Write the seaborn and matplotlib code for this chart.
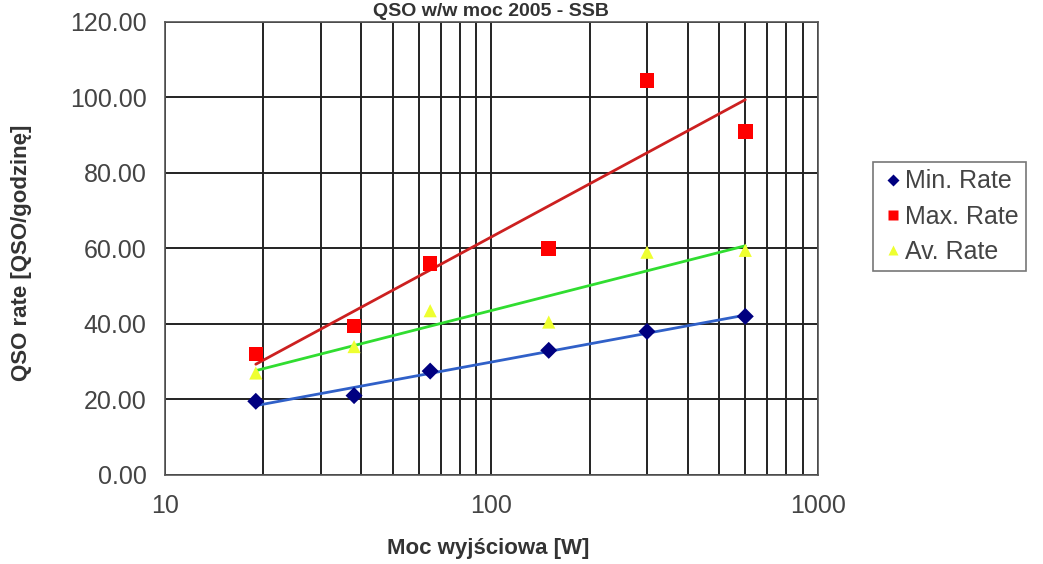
import numpy as np
import pandas as pd
import matplotlib
matplotlib.use('Agg')
import matplotlib.pyplot as plt
import matplotlib.ticker as mticker
import seaborn as sns

# Output power [W] for each measurement
power = [19, 38, 65, 150, 300, 600]

# QSO rates
min_rate = [19.5, 21.0, 27.5, 33.0, 38.0, 42.0]
max_rate = [32.0, 39.5, 56.0, 60.0, 104.5, 91.0]
av_rate = [27.0, 34.0, 43.5, 40.5, 59.0, 59.5]

series_names = ['Min. Rate', 'Max. Rate', 'Av. Rate']
y_ticks = [0, 20, 40, 60, 80, 100, 120]
x_ticks = [10, 100, 1000]


def build_frame():
    # long format table for seaborn
    df = pd.DataFrame({
        'Moc': power * 3,
        'Rate': min_rate + max_rate + av_rate,
        'Series': [s for s in series_names for _ in power],
    })
    return df


def log_trend(x, y):
    # Excel style logarithmic trendline
    coef = np.polyfit(np.log(x), y, 1)
    return np.polyval(coef, np.log(x))


def main():
    sns.set_style('white')
    plt.rcParams['font.family'] = ['Liberation Sans', 'DejaVu Sans']

    df = build_frame()

    fig = plt.figure(figsize=(10.43, 5.64), dpi=100)
    ax = fig.add_axes([0.158, 0.158, 0.626, 0.803])

    # trend lines first so markers sit on top
    trend_colors = {'Min. Rate': '#3060c8', 'Max. Rate': '#cc2020', 'Av. Rate': '#30dd30'}
    for name in series_names:
        sub = df[df['Series'] == name]
        sns.lineplot(x=sub['Moc'].values, y=log_trend(sub['Moc'].values, sub['Rate'].values),
                     color=trend_colors[name], linewidth=2, ax=ax, legend=False)

    sns.scatterplot(data=df, x='Moc', y='Rate', hue='Series', style='Series',
                    palette={'Min. Rate': '#000080', 'Max. Rate': '#ff0000', 'Av. Rate': '#eeff30'},
                    markers={'Min. Rate': 'D', 'Max. Rate': 's', 'Av. Rate': '^'},
                    size='Series', sizes={'Min. Rate': 75, 'Max. Rate': 110, 'Av. Rate': 90},
                    edgecolor='none', ax=ax, zorder=5)

    ax.set_xscale('log')
    ax.set_xlim(10, 1000)
    ax.set_ylim(0, 120)
    ax.set_yticks(y_ticks)
    ax.yaxis.set_major_formatter(mticker.FormatStrFormatter('%.2f'))
    ax.set_xticks(x_ticks)
    ax.xaxis.set_major_formatter(mticker.FormatStrFormatter('%d'))
    ax.xaxis.set_minor_locator(mticker.LogLocator(base=10, subs=np.arange(2, 10)))
    ax.xaxis.set_minor_formatter(mticker.NullFormatter())

    ax.grid(True, which='major', axis='both', color='#222222', linewidth=1.4)
    ax.grid(True, which='minor', axis='x', color='#222222', linewidth=1.4)
    for sp in ax.spines.values():
        sp.set_color('#555555')
        sp.set_linewidth(1.2)
    ax.tick_params(axis='both', which='major', direction='out', length=5,
                   labelsize=18, labelcolor='#444444', color='#555555')
    ax.tick_params(axis='x', which='minor', length=0)
    ax.tick_params(axis='x', pad=9)
    ax.tick_params(axis='y', pad=8)

    ax.set_xlabel('Moc wyjściowa [W]', fontsize=16, fontweight='bold', color='#333333')
    ax.set_ylabel('QSO rate [QSO/godzinę]', fontsize=16, fontweight='bold', color='#333333')
    ax.xaxis.set_label_coords(0.495, -0.14)
    ax.yaxis.set_label_coords(-0.203, 0.49)
    ax.set_title('QSO w/w moc 2005 - SSB', fontsize=14, fontweight='bold',
                 color='#333333', pad=4)

    leg = ax.legend(loc='upper left', bbox_to_anchor=(1.084, 0.691), fontsize=18,
                    frameon=True, fancybox=False, borderpad=0.3, handletextpad=0.0,
                    labelspacing=0.45, markerscale=0.75, borderaxespad=0,
                    handlelength=1.0)
    leg.get_frame().set_edgecolor('#555555')
    leg.get_frame().set_linewidth(1.2)
    for t in leg.get_texts():
        t.set_color('#444444')

    fig.savefig('out.png', dpi=100)


if __name__ == '__main__':
    main()
